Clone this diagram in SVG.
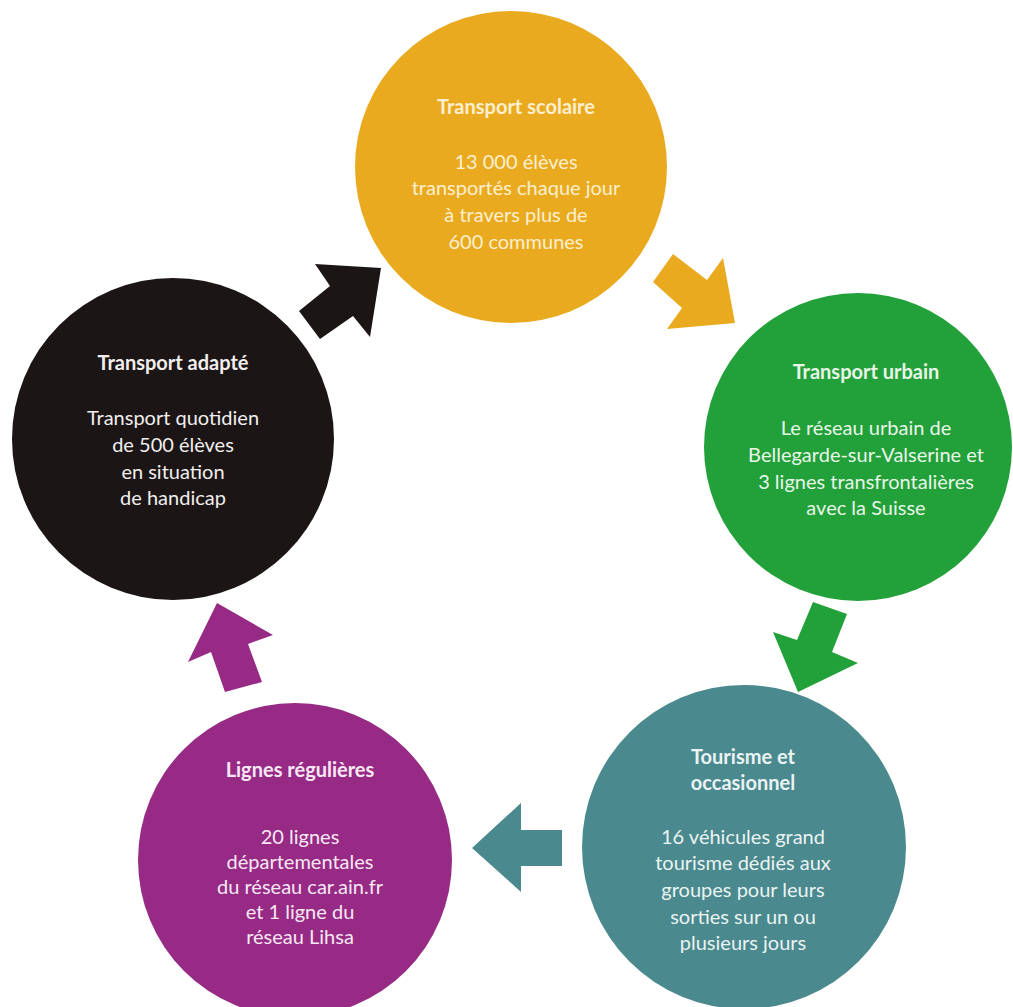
<svg xmlns="http://www.w3.org/2000/svg" width="1013" height="1007" viewBox="0 0 1013 1007">
<style>
.t{font-family:Lato,"Open Sans","Liberation Sans",sans-serif;font-size:20px;text-anchor:middle}
.h{font-weight:bold}
</style>
<rect width="1013" height="1007" fill="#ffffff"/>
<g id="connectors">
<polygon fill="#1b1515" points="381,268 315,264 330,286 299,311 320,339 353,316 370,337"/>
<polygon fill="#eaaa1f" points="735,323 723,258 707,280 673,254 653,282 682,308 667,329"/>
<polygon fill="#22a03a" points="798,692 773,632 797,640 813,602 847,614 832,652 858,663"/>
<polygon fill="#4a898e" points="472,848 521,803 521,830 562,830 562,866 521,866 521,892"/>
<polygon fill="#962a85" points="217,603 188,662 211,652 225,692 262,682 248,644 273,635"/>
</g>
<g id="node-scolaire">
<circle cx="511" cy="167" r="156" fill="#eaaa1f"/>
<g class="t" fill="#fcefcf">
<text x="516" y="114" class="h">Transport scolaire</text>
<text x="516" y="169">13 000 élèves</text>
<text x="516" y="195">transportés chaque jour</text>
<text x="516" y="222">à travers plus de</text>
<text x="516" y="249">600 communes</text>
</g>
</g>
<g id="node-urbain">
<circle cx="858" cy="447" r="154" fill="#22a03a"/>
<g class="t" fill="#e8f6e8">
<text x="866" y="379" class="h">Transport urbain</text>
<text x="866" y="435">Le réseau urbain de</text>
<text x="866" y="462">Bellegarde-sur-Valserine et</text>
<text x="866" y="489">3 lignes transfrontalières</text>
<text x="866" y="515">avec la Suisse</text>
</g>
</g>
<g id="node-tourisme">
<circle cx="744" cy="847" r="162" fill="#4a898e"/>
<g class="t" fill="#eaf3f3">
<text x="743" y="764" class="h">Tourisme et</text>
<text x="743" y="790" class="h">occasionnel</text>
<text x="743" y="844">16 véhicules grand</text>
<text x="743" y="870">tourisme dédiés aux</text>
<text x="743" y="897">groupes pour leurs</text>
<text x="743" y="924">sorties sur un ou</text>
<text x="743" y="950">plusieurs jours</text>
</g>
</g>
<g id="node-lignes">
<circle cx="295" cy="860" r="157" fill="#962a85"/>
<g class="t" fill="#f8e8f4">
<text x="300" y="777" class="h">Lignes régulières</text>
<text x="300" y="844">20 lignes</text>
<text x="300" y="869">départementales</text>
<text x="300" y="894">du réseau car.ain.fr</text>
<text x="300" y="919">et 1 ligne du</text>
<text x="300" y="944">réseau Lihsa</text>
</g>
</g>
<g id="node-adapte">
<circle cx="173" cy="439" r="161" fill="#1b1515"/>
<g class="t" fill="#f2eeee">
<text x="173" y="370" class="h">Transport adapté</text>
<text x="173" y="425">Transport quotidien</text>
<text x="173" y="452">de 500 élèves</text>
<text x="173" y="479">en situation</text>
<text x="173" y="505">de handicap</text>
</g>
</g>
</svg>
